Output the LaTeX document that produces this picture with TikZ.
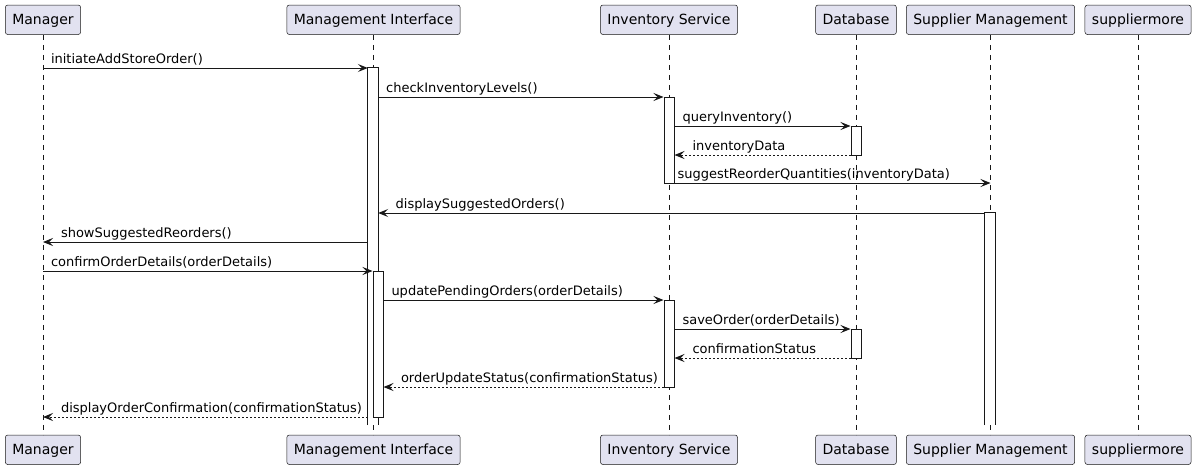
\documentclass[tikz,border=0pt]{standalone}
\usepackage{fontspec}
\setmainfont{DejaVu Sans}
\usetikzlibrary{arrows.meta}
\definecolor{pfill}{HTML}{E2E2F0}
\definecolor{pline}{HTML}{181818}
\tikzset{
  part/.style={draw=pline, fill=pfill, line width=0.5pt, rounded corners=2.5pt,
    minimum height=29.5pt, inner xsep=7pt, inner ysep=0pt, text height=10.2pt, text depth=0pt,
    font=\fontsize{14}{16}\selectfont},
  life/.style={draw=pline, line width=0.5pt, dash pattern=on 5pt off 5pt},
  act/.style={draw=pline, fill=white, line width=1pt, minimum width=10pt, inner sep=0pt},
  openact/.style={fill=white, minimum width=10pt, inner sep=0pt},
  actedge/.style={draw=pline, line width=1pt},
  msg/.style={draw=pline, line width=1pt, -{Stealth[length=10pt,width=8pt,inset=4pt]}},
  ret/.style={msg, dash pattern=on 2pt off 2pt},
  rlbl/.style={anchor=base west, inner sep=0pt, font=\fontsize{13}{15}\selectfont},
}
\begin{document}
\begin{tikzpicture}[x=1pt,y=-1pt]
\useasboundingbox (0,0) rectangle (1196,469);
% participants
\node[part] (tMgr) at (43,19.75) {Manager};
\node[part] (tMI) at (373.5,19.75) {Management Interface};
\node[part] (tInv) at (669,19.75) {Inventory Service};
\node[part] (tDB) at (856,19.75) {Database};
\node[part] (tSup) at (990.5,19.75) {Supplier Management};
\node[part] (tMore) at (1138,19.75) {suppliermore};
\node[part] (bMgr) at (43,449.75) {Manager};
\node[part] (bMI) at (373.5,449.75) {Management Interface};
\node[part] (bInv) at (669,449.75) {Inventory Service};
\node[part] (bDB) at (856,449.75) {Database};
\node[part] (bSup) at (990.5,449.75) {Supplier Management};
\node[part] (bMore) at (1138,449.75) {suppliermore};
% lifelines
\foreach \p in {Mgr,MI,Inv,DB,Sup,More}{
  \draw[life] (t\p.south) -- (b\p.north);
}
% activations (open at the bottom where they run to the end)
\node[openact, minimum height=357pt] (aMI1) at (373,246.5) {};
\draw[actedge] (aMI1.south west) -- (aMI1.north west) -- (aMI1.north east) -- (aMI1.south east);
\node[act, minimum height=146pt] (aMI2) at (378,344) {};
\node[act, minimum height=86pt] (aInv1) at (669,140) {};
\node[act, minimum height=29pt] (aDB1) at (856,140.5) {};
\node[openact, minimum height=212pt] (aSup1) at (990,319) {};
\draw[actedge] (aSup1.south west) -- (aSup1.north west) -- (aSup1.north east) -- (aSup1.south east);
\node[act, minimum height=87pt] (aInv2) at (669,343.5) {};
\node[act, minimum height=29pt] (aDB2) at (856,343.5) {};
% rows
\coordinate (r1) at (0,68);
\coordinate (r2) at (0,97);
\coordinate (r3) at (0,126);
\coordinate (r4) at (0,155);
\coordinate (r5) at (0,183);
\coordinate (r6) at (0,213);
\coordinate (r7) at (0,242);
\coordinate (r8) at (0,271);
\coordinate (r9) at (0,300);
\coordinate (r10) at (0,329);
\coordinate (r11) at (0,358);
\coordinate (r12) at (0,387);
\coordinate (r13) at (0,417);
% messages
\draw[msg] (tMgr |- r1) -- (aMI1.west |- r1)
  node[rlbl, at start, xshift=7.5pt, yshift=5pt] {initiateAddStoreOrder()};
\draw[msg] (aMI1.east |- r2) -- (aInv1.west |- r2)
  node[rlbl, at start, xshift=7.5pt, yshift=5pt] {checkInventoryLevels()};
\draw[msg] (aInv1.east |- r3) -- (aDB1.west |- r3)
  node[rlbl, at start, xshift=7.5pt, yshift=5pt] {queryInventory()};
\draw[ret] (aDB1.west |- r4) -- (aInv1.east |- r4)
  node[rlbl, at end, xshift=17.5pt, yshift=5pt] {inventoryData};
\draw[msg] (aInv1.east |- r5) -- (tSup |- r5)
  node[rlbl, at start, xshift=2.5pt, yshift=5pt] {suggestReorderQuantities(inventoryData)};
\draw[msg] (aSup1.west |- r6) -- (aMI1.east |- r6)
  node[rlbl, at end, xshift=17pt, yshift=5pt] {displaySuggestedOrders()};
\draw[msg] (aMI1.west |- r7) -- (tMgr |- r7)
  node[rlbl, at end, xshift=17.5pt, yshift=5pt] {showSuggestedReorders()};
\draw[msg] (tMgr |- r8) -- (aMI2.west |- r8)
  node[rlbl, at start, xshift=7.5pt, yshift=5pt] {confirmOrderDetails(orderDetails)};
\draw[msg] (aMI2.east |- r9) -- (aInv2.west |- r9)
  node[rlbl, at start, xshift=7.5pt, yshift=5pt] {updatePendingOrders(orderDetails)};
\draw[msg] (aInv2.east |- r10) -- (aDB2.west |- r10)
  node[rlbl, at start, xshift=7.5pt, yshift=5pt] {saveOrder(orderDetails)};
\draw[ret] (aDB2.west |- r11) -- (aInv2.east |- r11)
  node[rlbl, at end, xshift=17.5pt, yshift=5pt] {confirmationStatus};
\draw[ret] (aInv2.west |- r12) -- (aMI2.east |- r12)
  node[rlbl, at end, xshift=17pt, yshift=5pt] {orderUpdateStatus(confirmationStatus)};
\draw[ret] (aMI1.west |- r13) -- (tMgr |- r13)
  node[rlbl, at end, xshift=17.5pt, yshift=5pt] {displayOrderConfirmation(confirmationStatus)};
\end{tikzpicture}
\end{document}
